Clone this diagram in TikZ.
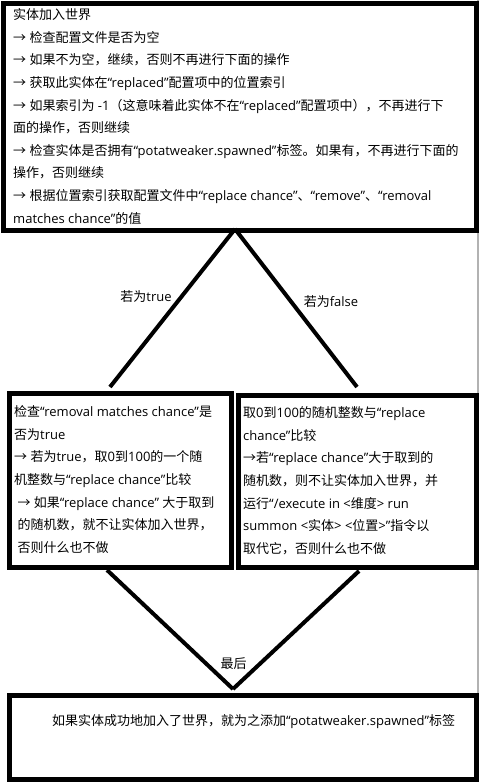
\documentclass[tikz,border=0pt]{standalone}
\usepackage{fontspec}
\setmainfont{Open Sans}
\newfontfamily\cjkfont{Noto Sans CJK SC}
\XeTeXinterchartokenstate=1
\newXeTeXintercharclass\cjkclass
\newcount\cjkcnt
\cjkcnt="4E00
\loop
  \XeTeXcharclass\cjkcnt=\cjkclass
  \ifnum\cjkcnt<"9FFF
  \advance\cjkcnt by 1
\repeat
\XeTeXcharclass"FF0C=\cjkclass
\XeTeXcharclass"FF08=\cjkclass
\XeTeXcharclass"FF09=\cjkclass
\XeTeXcharclass"3001=\cjkclass
\XeTeXcharclass"3002=\cjkclass
\XeTeXcharclass"2192=\cjkclass
\XeTeXinterchartoks 0 \cjkclass = {\cjkfont}
\XeTeXinterchartoks 4095 \cjkclass = {\cjkfont}
\XeTeXinterchartoks \cjkclass 0 = {\rmfamily}
\XeTeXinterchartoks \cjkclass 4095 = {\rmfamily}
\tikzset{
  box/.style={draw=black, line width=5pt, inner sep=0pt, anchor=north west},
  link/.style={draw=black, line width=4pt},
  txt/.style={anchor=north west, align=left, inner sep=0pt, font=\fontsize{13}{22.6}\selectfont},
  lbl/.style={inner sep=0pt, font=\fontsize{13}{15}\selectfont}
}
\begin{document}
\begin{tikzpicture}[x=1pt,y=-1pt]
\useasboundingbox (0,0) rectangle (479,782);
\fill[white] (0,0) rectangle (479,782);
\draw[black!30, line width=1.5pt] (478,0) -- (478,782);
% boxes
\node[box, minimum width=473.5pt, minimum height=227.5pt] (top) at (0.5,0.5) {};
\node[box, minimum width=222pt, minimum height=174.5pt] (left) at (6.5,390.5) {};
\node[box, minimum width=238.5pt, minimum height=172pt] (right) at (235.5,392.5) {};
\node[box, minimum width=467pt, minimum height=84.5pt] (bottom) at (7,692.5) {};
% texts
\node[txt] (toptext) at (13,8.5) {实体加入世界\\
→ 检查配置文件是否为空\\
→ 如果不为空，继续，否则不再进行下面的操作\\
→ 获取此实体在“replaced”配置项中的位置索引\\
→ 如果索引为 -1（这意味着此实体不在“replaced”配置项中），不再进行下\\
面的操作，否则继续\\
→ 检查实体是否拥有“potatweaker.spawned”标签。如果有，不再进行下面的\\
操作，否则继续\\
→ 根据位置索引获取配置文件中“replace chance”、“remove”、“removal\\
matches chance”的值};
\node[txt] (lefttext) at (14,405.5) {检查“removal matches chance”是\\
否为true\\
→ 若为true，取0到100的一个随\\
机整数与“replace chance”比较\\
\ → 如果“replace chance” 大于取到\\
\ 的随机数，就不让实体加入世界，\\
\ 否则什么也不做};
\node[txt] (righttext) at (243,406.5) {取0到100的随机整数与“replace\\
chance”比较\\
→若“replace chance”大于取到的\\
随机数，则不让实体加入世界，并\\
运行“/execute in <维度> run\\
summon <实体> <位置>”指令以\\
取代它，否则什么也不做};
\node[txt, anchor=west] (bottomtext) at (52,722) {如果实体成功地加入了世界，就为之添加“potatweaker.spawned”标签};
% connectors
\coordinate (tapex) at (235,229);
\coordinate (lend) at (110,387);
\coordinate (rend) at (357,387);
\coordinate (lstart) at (107,570);
\coordinate (rstart) at (359,571);
\coordinate (bapex) at (233,689);
\draw[link] (tapex) -- (lend);
\draw[link] (tapex) -- (rend);
\draw[link] (lstart) -- (bapex);
\draw[link] (rstart) -- (bapex);
% labels
\node[lbl] (ltrue) at (146,297) {若为true};
\node[lbl] (lfalse) at (331,302) {若为false};
\node[lbl] (lfinal) at (233.5,664) {最后};
\end{tikzpicture}
\end{document}
